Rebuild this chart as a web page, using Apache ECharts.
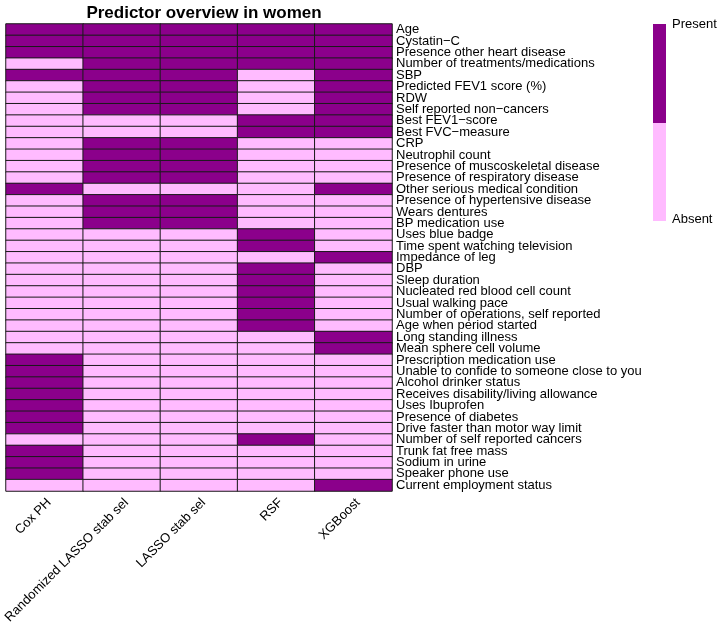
<!DOCTYPE html>
<html>
<head>
<meta charset="utf-8">
<script src="https://cdn.jsdelivr.net/npm/echarts@6/dist/echarts.min.js"></script>
<style>
  html, body { margin: 0; padding: 0; background: #fff; }
  #chart { width: 720px; height: 623px; }
</style>
</head>
<body>
<div id="chart"></div>
<script>
// methods (x axis)
const methods = ["Cox PH", "Randomized LASSO stab sel", "LASSO stab sel", "RSF", "XGBoost"];

// predictors, top to bottom
const predictors = [
  "Age", "Cystatin\u2212C", "Presence other heart disease", "Number of treatments/medications",
  "SBP", "Predicted FEV1 score (%)", "RDW", "Self reported non\u2212cancers",
  "Best FEV1\u2212score", "Best FVC\u2212measure", "CRP", "Neutrophil count",
  "Presence of muscoskeletal disease", "Presence of respiratory disease",
  "Other serious medical condition", "Presence of hypertensive disease", "Wears dentures",
  "BP medication use", "Uses blue badge", "Time spent watching television", "Impedance of leg",
  "DBP", "Sleep duration", "Nucleated red blood cell count", "Usual walking pace",
  "Number of operations, self reported", "Age when period started", "Long standing illness",
  "Mean sphere cell volume", "Prescription medication use",
  "Unable to confide to someone close to you", "Alcohol drinker status",
  "Receives disability/living allowance", "Uses Ibuprofen", "Presence of diabetes",
  "Drive faster than motor way limit", "Number of self reported cancers", "Trunk fat free mass",
  "Sodium in urine", "Speaker phone use", "Current employment status"
];

// 1 = present, 0 = absent (one entry per predictor)
const coxPH       = [1,1,1,0,1,0,0,0,0,0, 0,0,0,0,1,0,0,0,0,0, 0,0,0,0,0,0,0,0,0,1, 1,1,1,1,1,1,0,1,1,1, 0];
const randLasso   = [1,1,1,1,1,1,1,1,0,0, 1,1,1,1,0,1,1,1,0,0, 0,0,0,0,0,0,0,0,0,0, 0,0,0,0,0,0,0,0,0,0, 0];
const lassoStab   = [1,1,1,1,1,1,1,1,0,0, 1,1,1,1,0,1,1,1,0,0, 0,0,0,0,0,0,0,0,0,0, 0,0,0,0,0,0,0,0,0,0, 0];
const rsf         = [1,1,1,1,0,0,0,0,1,1, 0,0,0,0,0,0,0,0,1,1, 0,1,1,1,1,1,1,0,0,0, 0,0,0,0,0,0,1,0,0,0, 0];
const xgboost     = [1,1,1,1,1,1,1,1,1,1, 0,0,0,0,1,0,0,0,0,0, 1,0,0,0,0,0,0,1,1,0, 0,0,0,0,0,0,0,0,0,0, 1];

const legendLabels = ["Present", "Absent"];

const PURPLE = "#8b008b";
const PINK = "#ffbbff";
const FONT = "Liberation Sans, Arial, Helvetica, sans-serif";

const selections = [coxPH, randLasso, lassoStab, rsf, xgboost];
const cells = [];
selections.forEach((col, x) => {
  col.forEach((v, y) => cells.push([x, y, v]));
});

const chart = echarts.init(document.getElementById("chart"));

const option = {
  animation: false,
  textStyle: { fontFamily: FONT },
  title: {
    text: "Predictor overview in women",
    left: 199,
    top: 0,
    textAlign: "center",
    textStyle: { fontSize: 17, fontWeight: "bold", color: "#000", fontFamily: FONT }
  },
  grid: { left: 6, right: 328, top: 24, bottom: 132, outerBoundsMode: "none", containLabel: false },
  xAxis: {
    type: "category",
    data: methods,
    axisLine: { show: false },
    axisTick: { show: false },
    splitLine: { show: false },
    axisLabel: { interval: 0, rotate: 45, fontSize: 13, color: "#000", margin: 5, verticalAlign: "top" }
  },
  yAxis: {
    type: "category",
    data: predictors,
    inverse: true,
    position: "right",
    axisLine: { show: false },
    axisTick: { show: false },
    splitLine: { show: false },
    axisLabel: { interval: 0, fontSize: 13, color: "#000", margin: 4, lineHeight: 12 }
  },
  visualMap: {
    show: false,
    type: "piecewise",
    dimension: 2,
    pieces: [
      { value: 1, color: PURPLE },
      { value: 0, color: PINK }
    ]
  },
  series: [{
    type: "heatmap",
    data: cells,
    itemStyle: { borderColor: "#1a1a1a", borderWidth: 1 },
    emphasis: { disabled: true }
  }],
  graphic: [
    { type: "rect", left: 653, top: 24, shape: { width: 13, height: 99 }, style: { fill: PURPLE } },
    { type: "rect", left: 653, top: 123, shape: { width: 13, height: 98 }, style: { fill: PINK } },
    { type: "text", left: 672, top: 18, style: { text: legendLabels[0], fontSize: 13, fill: "#000", fontFamily: FONT } },
    { type: "text", left: 672, top: 213, style: { text: legendLabels[1], fontSize: 13, fill: "#000", fontFamily: FONT } }
  ]
};

chart.setOption(option);
</script>
</body>
</html>
